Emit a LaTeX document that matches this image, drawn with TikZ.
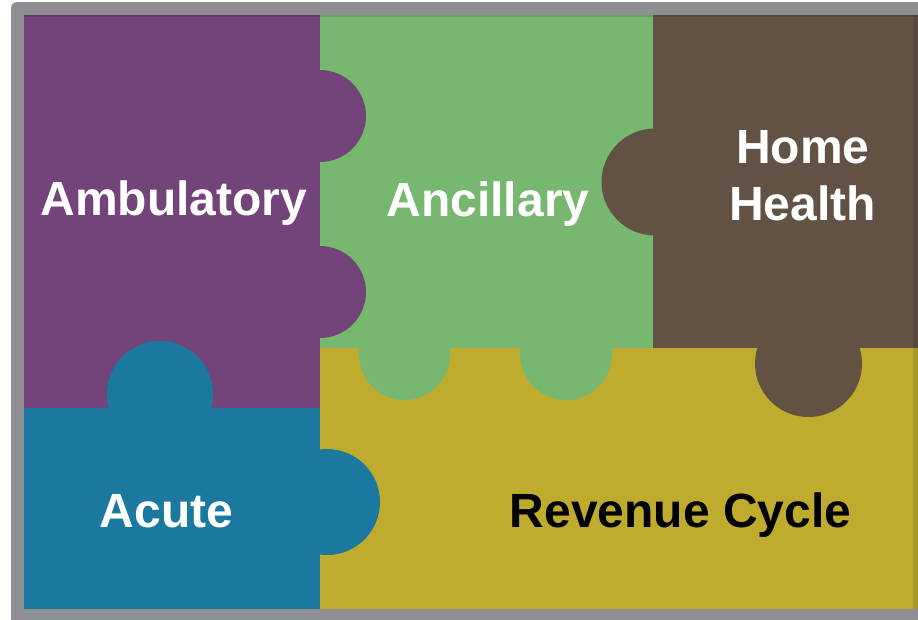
\documentclass[tikz,border=0pt]{standalone}
\usepackage{fontspec}
\setmainfont{Liberation Sans}
\definecolor{cpurple}{HTML}{73447A}
\definecolor{cgreen}{HTML}{77B76F}
\definecolor{cbrown}{HTML}{625244}
\definecolor{cyellow}{HTML}{BFAC2E}
\definecolor{cblue}{HTML}{1B79A0}
\definecolor{cframe}{HTML}{8E8E93}
\tikzset{
  lbl/.style={anchor=base, inner sep=0pt, font=\bfseries\fontsize{48}{57}\selectfont},
  wlbl/.style={lbl, text=white},
  blbl/.style={lbl, text=black},
}
\begin{document}
\begin{tikzpicture}[x=1pt,y=-1pt]
\useasboundingbox (0,0) rectangle (918,619);
\fill[white] (0,0) rectangle (918,619);
\begin{scope}
\clip (0,0) rectangle (918,619);
\fill[cframe, rounded corners=6pt] (11,2) rectangle (940,640);
% base pieces
\fill[cpurple] (24,15) rectangle (320,408);
\fill[cblue] (24,408) rectangle (320,609);
\fill[cgreen] (320,15) rectangle (653,348);
\fill[cbrown] (653,15) rectangle (918,348);
\fill[cyellow] (320,348) rectangle (918,609);
% tabs
\fill[cpurple] (320,116) circle[radius=46];
\fill[cpurple] (320,292) circle[radius=46];
\fill[cblue] (160,394) circle[radius=53];
\fill[cblue] (327,502) circle[radius=53];
\fill[cgreen] (404.5,354.5) circle[radius=45.5];
\fill[cgreen] (566,354) circle[radius=46];
\fill[cbrown] (655,182) circle[radius=53.5];
\fill[cbrown] (808.5,363.5) circle[radius=53.5];
% subtle shadows
\fill[black, opacity=0.12] (24,15) rectangle (918,17);
\fill[black, opacity=0.12] (913,15) rectangle (918,609);
\end{scope}
% labels
\node[wlbl] (amb) at (174,215) {Ambulatory};
\node[wlbl] (anc) at (488,216) {Ancillary};
\node[wlbl] (home) at (803,163) {Home};
\node[wlbl] (health) at (802.5,220) {Health};
\node[wlbl] (acute) at (166.5,527) {Acute};
\node[blbl] (rev) at (680.5,527) {Revenue Cycle};
\end{tikzpicture}
\end{document}
